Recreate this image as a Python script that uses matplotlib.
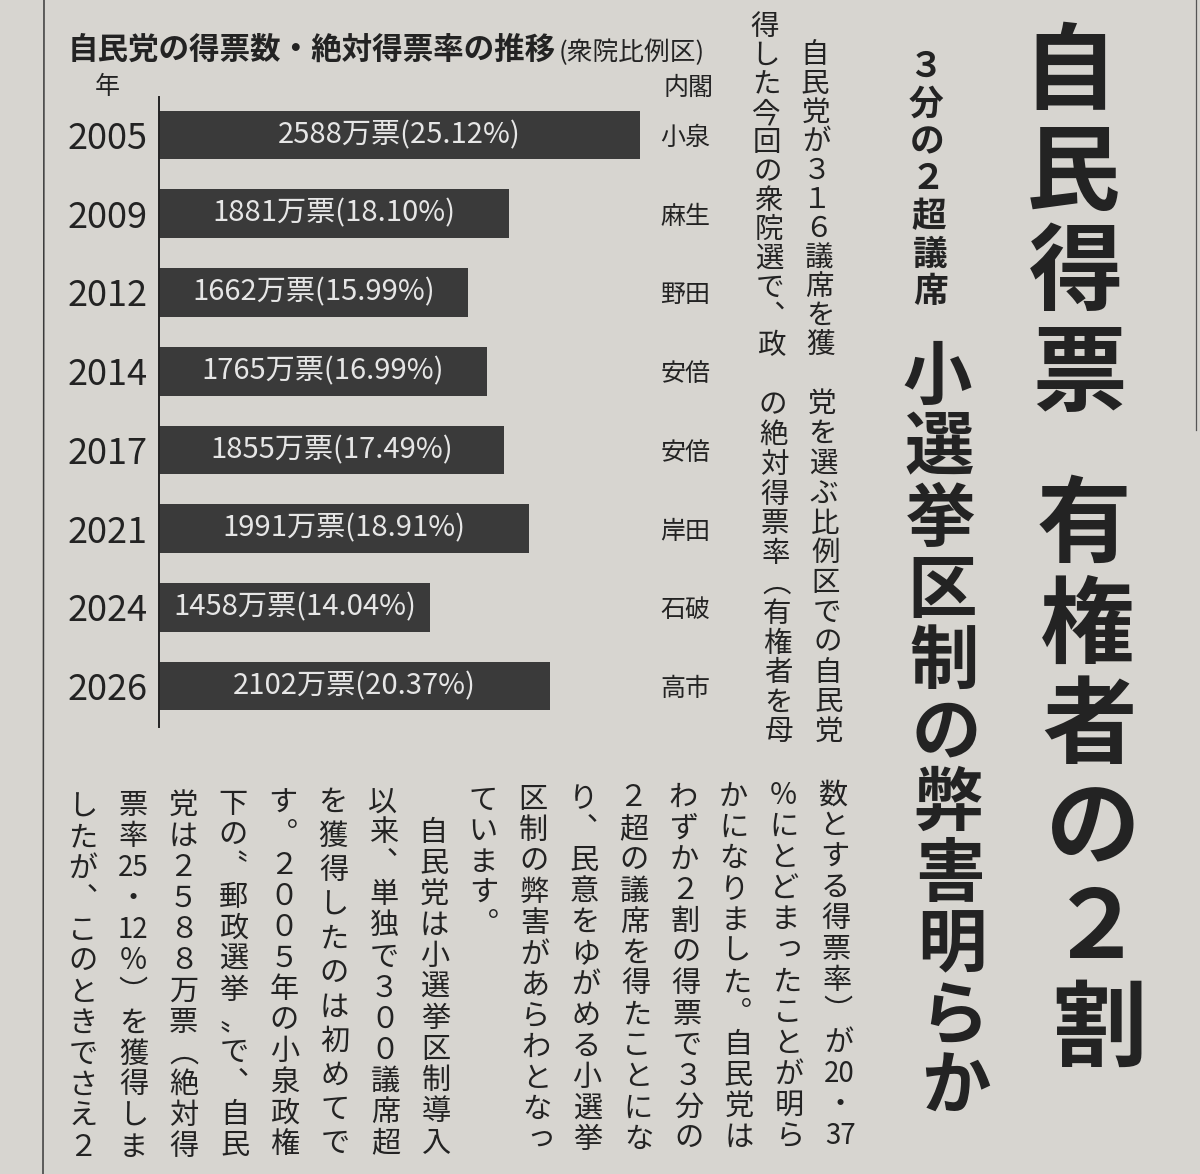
import re
import numpy as np
import matplotlib
matplotlib.use("Agg")
import matplotlib.pyplot as plt

plt.rcParams['font.family'] = ['Noto Sans CJK JP', 'DejaVu Sans']

# chart data
years = ['2005', '2009', '2012', '2014', '2017', '2021', '2024', '2026']
votes = [2588, 1881, 1662, 1765, 1855, 1991, 1458, 2102]   # 万票
rates = [25.12, 18.10, 15.99, 16.99, 17.49, 18.91, 14.04, 20.37]
cabinets = ['小泉', '麻生', '野田', '安倍', '安倍', '岸田', '石破', '高市']

title = '自民党の得票数・絶対得票率の推移'
subtitle = '(衆院比例区)'

# article text (vertical columns, right to left)
head1 = '自民得票'
head2 = '有権者の２割'
sub_head = '３分の２超議席'
head3 = '小選挙区制の弊害明らか'
tier1 = ['　自民党が３１６議席を獲', '得した今回の衆院選で、政']
tier2 = ['党を選ぶ比例区での自民党', 'の絶対得票率（有権者を母']
tier3 = ['数とする得票率）が{20}・{37}', '％にとどまったことが明ら',
         'かになりました。自民党は', 'わずか２割の得票で３分の',
         '２超の議席を得たことにな', 'り、民意をゆがめる小選挙',
         '区制の弊害があらわとなっ', 'ています。',
         '　自民党は小選挙区制導入', '以来、単独で３００議席超',
         'を獲得したのは初めてで', 'す。２００５年の小泉政権',
         '下の〝郵政選挙〟で、自民', '党は２５８８万票（絶対得',
         '票率{25}・{12}％）を獲得しま', 'したが、このときでさえ２']

paper = '#d7d5d0'
ink = '#232323'
bar_color = '#3a3a3a'

W, H = 1200, 1174
fig = plt.figure(figsize=(W / 100, H / 100), dpi=100)
fig.patch.set_facecolor(paper)

bg = fig.add_axes([0, 0, 1, 1], zorder=0)
bg.set_xlim(0, W)
bg.set_ylim(H, 0)
bg.axis('off')

# page rules
bg.plot([44, 43], [0, H], color='#3a3a3a', lw=1.1)
bg.plot([1196, 1196], [0, 430], color='#555555', lw=0.9)

# ---- bar chart ----
ax = fig.add_axes([159 / W, 1 - 727 / H, 481 / W, 630 / H], zorder=1)
ax.patch.set_alpha(0)
ypos = np.arange(len(years))
bars = ax.barh(ypos, votes, height=0.62, color=bar_color)
ax.set_xlim(0, max(votes))
ax.set_ylim(7.52, -0.483)
labels = [f'{v}万票({r:.2f}%)' for v, r in zip(votes, rates)]
ax.bar_label(bars, labels=labels, label_type='center', color='#e6e6e6', fontsize=21)
ax.set_xticks([])
ax.set_yticks(ypos, years, fontsize=26, color=ink)
ax.tick_params(axis='y', length=0, pad=8)
for s in ['top', 'right', 'bottom']:
    ax.spines[s].set_visible(False)
ax.spines['left'].set_color(ink)
ax.spines['left'].set_linewidth(1.4)

ax2 = ax.twinx()
ax2.set_ylim(ax.get_ylim())
ax2.set_yticks(ypos, cabinets, fontsize=18, color=ink)
ax2.tick_params(axis='y', length=0, pad=14.5)
for s in ax2.spines.values():
    s.set_visible(False)

bg.text(68, 50, title, ha='left', va='center', fontsize=22, fontweight='bold', color=ink)
bg.text(559, 53, subtitle, ha='left', va='center', fontsize=18.5, color=ink)
bg.text(107, 87, '年', ha='center', va='center', fontsize=18, color=ink)
bg.text(688, 88, '内閣', ha='center', va='center', fontsize=18, color=ink)

# ---- vertical text ----
VERT = {'、': '\ufe11', '。': '\ufe12', '（': '\ufe35', '）': '\ufe36'}
SMALL = set('っゃゅょぁぃぅぇぉ')


def warp(x, y):
    # the photo is slightly skewed toward the right side
    return x + 0.03 * (x - 80) / 1000 * (y - 800), y + 0.016 * (850 - x)


def tate(x0, y0, step, s, size, weight='normal', n_cells=None):
    cells = re.findall(r'\{[^}]*\}|.', s)
    if n_cells and len(cells) < n_cells and len(cells) >= n_cells - 2:
        step = step * (n_cells - 1) / (len(cells) - 1)
    em = size * 100 / 72
    for k, c in enumerate(cells):
        if c == '　':
            continue
        x, y = warp(x0, y0 + k * step)
        fs = size
        if c.startswith('{'):
            c = c[1:-1]
            fs = size * 0.95
        elif c in SMALL:
            x += 0.1 * em
            y -= 0.1 * em
        c = VERT.get(c, c)
        bg.text(x, y, c, ha='center', va='center', fontsize=fs,
                fontweight=weight, color=ink)


# headlines
tate(1092, 78, 100.7, head1, 68, 'bold')
tate(1092, 531, 100.7, head2, 68, 'bold')
tate(944, 68, 37.5, sub_head, 25, 'bold')
tate(948, 380, 71, head3, 50, 'bold')

# body text
for i, col in enumerate(tier1):
    tate(831 - 50 * i, 26, 29, col, 20.5)
for i, col in enumerate(tier2):
    tate(831 - 50 * i, 404, 29.8, col, 20.5)
for i, col in enumerate(tier3):
    tate(833 - 50 * i, 795, 31, col, 21, n_cells=12)

fig.savefig('out.png', dpi=100, facecolor=paper)
